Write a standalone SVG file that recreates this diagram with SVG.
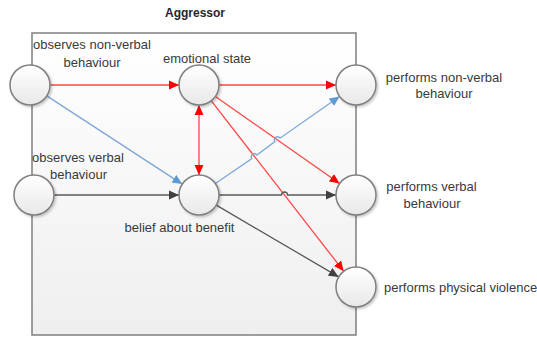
<svg xmlns="http://www.w3.org/2000/svg" width="537" height="337" viewBox="0 0 537 337">
<style>
text{font-family:"Liberation Sans",Arial,sans-serif;font-size:13px;fill:#3a3a3a}
.t{font-weight:bold;font-size:12px;fill:#262626}
.n{fill:url(#cg);stroke:#7f7f7f;stroke-width:1.5;filter:url(#sh)}
.r{stroke:#ff4545;stroke-width:1.3;fill:none}
.b{stroke:#7da7d6;stroke-width:1.3;fill:none}
.k{stroke:#595959;stroke-width:1.3;fill:none}
</style>
<defs>
<linearGradient id="bg" x1="0" y1="0" x2="0" y2="1"><stop offset="0" stop-color="#ffffff"/><stop offset="1" stop-color="#efefef"/></linearGradient>
<linearGradient id="cg" x1="0" y1="0" x2="0" y2="1"><stop offset="0" stop-color="#ffffff"/><stop offset="1" stop-color="#e8e8e8"/></linearGradient>
<filter id="sh" x="-30%" y="-30%" width="160%" height="160%"><feDropShadow dx="1.5" dy="1.5" stdDeviation="1" flood-color="#000" flood-opacity="0.22"/></filter>
<marker id="ar" viewBox="0 0 10 10" refX="10" refY="5" markerWidth="10" markerHeight="10" markerUnits="userSpaceOnUse" orient="auto-start-reverse"><path d="M0,0.5 L10,5 L0,9.5 Z" fill="#ff0000"/></marker>
<marker id="ab" viewBox="0 0 10 10" refX="10" refY="5" markerWidth="10" markerHeight="10" markerUnits="userSpaceOnUse" orient="auto"><path d="M0,0.5 L10,5 L0,9.5 Z" fill="#5b9bd5"/></marker>
<marker id="ak" viewBox="0 0 10 10" refX="10" refY="5" markerWidth="10" markerHeight="10" markerUnits="userSpaceOnUse" orient="auto"><path d="M0,0.5 L10,5 L0,9.5 Z" fill="#404040"/></marker>
</defs>
<rect width="537" height="337" fill="#ffffff"/>
<g id="aggressor">
<rect x="32" y="33" width="324" height="302" fill="url(#bg)" stroke="#7f7f7f" stroke-width="1.5"/>
<text class="t" x="195" y="17" text-anchor="middle">Aggressor</text>
</g>
<g id="connectors">
<path class="r" d="M50,85 L179,85" marker-end="url(#ar)"/>
<path class="r" d="M219,85 L336,85" marker-end="url(#ar)"/>
<path class="r" d="M199,105 L199,175" marker-start="url(#ar)" marker-end="url(#ar)"/>
<path class="r" d="M215.4,96.5 L339.6,183.5" marker-end="url(#ar)"/>
<path class="r" d="M211.3,100.8 L343.7,271.2" marker-end="url(#ar)"/>
<path class="b" d="M46.8,95.9 L182.2,184.1" marker-end="url(#ab)"/>
<path class="b" d="M215.4,183.5 L251.9,158.5 A3,3 0 0 1 256.9,155.1 L275,141.6 A3,3 0 0 1 280,138.2 L339.6,96.5" marker-end="url(#ab)"/>
<path class="k" d="M54,195 L179,195" marker-end="url(#ak)"/>
<path class="k" d="M219,195 L281.5,195 A3,3 0 0 1 287.5,195 L336,195" marker-end="url(#ak)"/>
<path class="k" d="M216.3,205.1 L338.7,276.9" marker-end="url(#ak)"/>
</g>
<g id="observes-nonverbal">
<circle class="n" cx="30" cy="85" r="20"/>
<text x="92" y="49" text-anchor="middle">observes non-verbal</text>
<text x="92" y="66.5" text-anchor="middle">behaviour</text>
</g>
<g id="emotional-state">
<circle class="n" cx="199" cy="85" r="20"/>
<text x="207" y="62.5" text-anchor="middle">emotional state</text>
</g>
<g id="observes-verbal">
<circle class="n" cx="34" cy="195" r="20"/>
<text x="78" y="162" text-anchor="middle">observes verbal</text>
<text x="78.5" y="178.5" text-anchor="middle">behaviour</text>
</g>
<g id="belief">
<circle class="n" cx="199" cy="195" r="20"/>
<text x="179.5" y="232" text-anchor="middle">belief about benefit</text>
</g>
<g id="performs-nonverbal">
<circle class="n" cx="356" cy="85" r="20"/>
<text x="444" y="81.5" text-anchor="middle">performs non-verbal</text>
<text x="444" y="98" text-anchor="middle">behaviour</text>
</g>
<g id="performs-verbal">
<circle class="n" cx="356" cy="195" r="20"/>
<text x="431.5" y="190.5" text-anchor="middle">performs verbal</text>
<text x="432" y="207.5" text-anchor="middle">behaviour</text>
</g>
<g id="performs-violence">
<circle class="n" cx="356" cy="287" r="20"/>
<text x="384" y="291.5">performs physical violence</text>
</g>
</svg>
